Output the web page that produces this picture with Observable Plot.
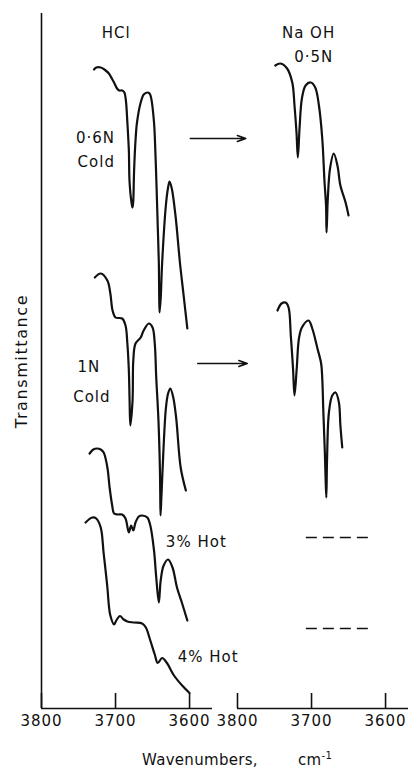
<!DOCTYPE html>
<html><head><meta charset="utf-8">
<script src="https://cdn.jsdelivr.net/npm/d3@7"></script>
<script src="https://cdn.jsdelivr.net/npm/@observablehq/plot@0.6"></script>
<style>
body{margin:0;background:#fff;}
#chart{width:413px;}
#chart svg text{letter-spacing:1px;}
#chart [aria-label="y-axis label"] text{letter-spacing:1.6px;font-size:16px;}
#xlabel{position:relative;height:28px;width:413px;font-family:"DejaVu Sans",sans-serif;color:#111;font-size:15px;line-height:1;}
#xlabel span{position:absolute;top:8px;white-space:nowrap;letter-spacing:0.3px;line-height:1;}
#xlabel sup{font-size:10px;line-height:0;vertical-align:6px;}
</style></head><body>
<div id="chart"></div>
<div id="xlabel"><span style="left:142px">Wavenumbers,</span><span style="left:298px">cm<sup>-1</sup></span></div>
<script>
// ---- data (wavenumber in cm-1, transmittance in arbitrary offset units) ----
const panels = ["HCl", "NaOH"];
const xTicks = [3800, 3700, 3600];

const hcl06_wn = [3729,3726,3720,3715,3709,3705,3702,3698,3695,3691,3688,3686,3684,3682,3681,3678,3677,3676,3675,3673,3671,3666,3662,3657,3654,3652,3648,3646,3644.5,3643,3641.5,3641,3640.5,3639,3637,3632,3629,3627,3624,3619,3613,3608,3603];
const hcl06_t  = [639,641,641,639,635,630,626,620,618,618,616,608,586,558,526,504,501,508,536,568,586,606,614,616,615,611,586,553,520,483,446,413,396,410,446,503,521,527,520,493,446,413,380];

const hcl1_wn = [3728,3720,3711,3707,3704,3700,3691,3686.5,3684,3682,3681,3680,3677,3676,3673,3666,3662,3655,3650,3647,3645,3642,3640,3639.6,3639.2,3638,3636.5,3632,3629,3626,3622,3618,3612,3605];
const hcl1_t  = [431,435,428,415,398,391,390,383,365,338,308,283,308,348,365,371,378,385,381,365,331,288,238,215,193,212,238,300,315,320,311,290,241,218];

const hot3_wn = [3735,3730,3725,3720,3716,3711,3708,3704.5,3702,3697,3691,3686.5,3682,3679,3676,3673,3668.5,3664,3657,3653,3648,3645,3641.5,3639,3635,3629,3623,3617,3610,3603];
const hot3_t  = [255,259,260,259,256,241,221,203,195,194,194,190,176,183,178,186,192,193,191,183,158,131,106,128,143,149,141,121,105,88];

const hot4_wn = [3740.5,3731.5,3726,3720,3716,3711,3709,3707,3702,3699,3694,3689,3684,3675,3664,3659,3653,3647,3643,3637,3631,3621,3610,3600];
const hot4_t  = [186,191,190,181,155,121,103,93,84,88,92.5,89,87,86,85,81,68,54,45.5,50.5,46,33,23,15.5];

const naoh05_wn = [3749,3742,3733,3726,3723,3720.3,3718.5,3716.2,3713,3708,3701,3695,3690,3685.5,3682.4,3680.4,3679.7,3678,3675,3670,3665,3661,3654,3650];
const naoh05_t  = [643,645,640,626,603,576,551,580,610,623,626,621,603,570,526,503,476,510,540,555,543,523,506,493];

const naoh1_wn = [3746,3740.5,3735,3731,3728,3725,3723,3720,3717,3713,3704,3699,3692,3687,3685.5,3684,3682,3681,3680,3679,3676.5,3672,3667.5,3663,3661,3658.5];
const naoh1_t  = [398,405,406,401,373,340,313,340,370,381,388,380,360,345,330,296,256,230,211,250,296,313,316,306,283,261];

// NaOH spectra not recorded for the hot samples (dashed placeholders)
const dashPanel = ["NaOH", "NaOH"];
const dashFrom  = [3707, 3707];
const dashTo    = [3623, 3623];
const dashLevel = [171, 80];

// arrows HCl -> NaOH
const arrowFrom  = [3599, 3589];
const arrowTo    = [3524, 3522];
const arrowLevel = [570, 345];

// annotations
const centerLabels = ["HCl", "0·6N", "Cold", "1N", "Cold", "Na OH", "0·5N"];
const centerPanel  = ["HCl", "HCl", "HCl", "HCl", "HCl", "NaOH", "NaOH"];
const centerWn     = [3699, 3727, 3726, 3736, 3732, 3704, 3697];
const centerT      = [675, 570, 546, 341, 311, 675, 651];
const startLabels  = ["3% Hot", "4% Hot"];
const startWn      = [3632, 3616];
const startT       = [166, 51];

// ---- build tables ----
const series = [
  ["HCl", "0.6N cold", hcl06_wn, hcl06_t],
  ["HCl", "1N cold", hcl1_wn, hcl1_t],
  ["HCl", "3% hot", hot3_wn, hot3_t],
  ["HCl", "4% hot", hot4_wn, hot4_t],
  ["NaOH", "0.5N after 0.6N", naoh05_wn, naoh05_t],
  ["NaOH", "0.5N after 1N", naoh1_wn, naoh1_t]
];
const curveRows = series.flatMap(([panel, name, wn, t]) => wn.map((w, i) => ({panel, name, w, t: t[i]})));
const dashRows = dashLevel.map((t, i) => ({panel: dashPanel[i], w1: dashFrom[i], w2: dashTo[i], t}));
const arrowRows = arrowLevel.map((t, i) => ({panel: "HCl", w1: arrowFrom[i], w2: arrowTo[i], t}));
const centerRows = centerLabels.map((label, i) => ({label, panel: centerPanel[i], w: centerWn[i], t: centerT[i]}));
const startRows = startLabels.map((label, i) => ({label, panel: "HCl", w: startWn[i], t: startT[i]}));
const tickRows = panels.flatMap(panel => xTicks.map(w => ({panel, w})));
const yAxisRows = [{panel: "HCl", w: xTicks[0]}];

const ink = "#111";
const chart = Plot.plot({
  width: 413, height: 745,
  marginLeft: 41, marginRight: 5, marginTop: 13, marginBottom: 37,
  style: {fontFamily: "DejaVu Sans, sans-serif", fontSize: "15px", color: ink, background: "#fff"},
  fx: {domain: panels, paddingInner: 0.128, paddingOuter: 0, axis: null},
  x: {domain: [3800, 3569], label: null},
  y: {domain: [0, 695], label: "Transmittance"},
  marks: [
    Plot.ruleY([0], {stroke: ink, strokeWidth: 1.6}),
    Plot.ruleX(yAxisRows, {fx: "panel", x: "w", y1: 0, y2: 695, stroke: ink, strokeWidth: 1.6}),
    Plot.ruleX(tickRows, {fx: "panel", x: "w", y1: 0, y2: 15, stroke: ink, strokeWidth: 1.6}),
    Plot.axisX({ticks: xTicks, tickSize: 0, tickPadding: 7, label: null, tickFormat: d => String(d), fontSize: 15}),
    Plot.axisY({ticks: [], tickSize: 0, label: "Transmittance", labelAnchor: "center", labelArrow: "none", labelOffset: 26}),
    Plot.line(curveRows, {fx: "panel", x: "w", y: "t", z: "name", curve: "catmull-rom", stroke: ink, strokeWidth: 2.2}),
    Plot.ruleY(dashRows, {fx: "panel", y: "t", x1: "w1", x2: "w2", stroke: ink, strokeWidth: 1.5, strokeDasharray: "11,6"}),
    Plot.arrow(arrowRows, {fx: "panel", x1: "w1", x2: "w2", y1: "t", y2: "t", stroke: ink, strokeWidth: 1.5, headLength: 9, headAngle: 40}),
    Plot.text(centerRows, {fx: "panel", x: "w", y: "t", text: "label", fontSize: 15, fill: ink}),
    Plot.text(startRows, {fx: "panel", x: "w", y: "t", text: "label", textAnchor: "start", fontSize: 15, fill: ink})
  ]
});
document.getElementById("chart").appendChild(chart);
</script>
</body></html>
